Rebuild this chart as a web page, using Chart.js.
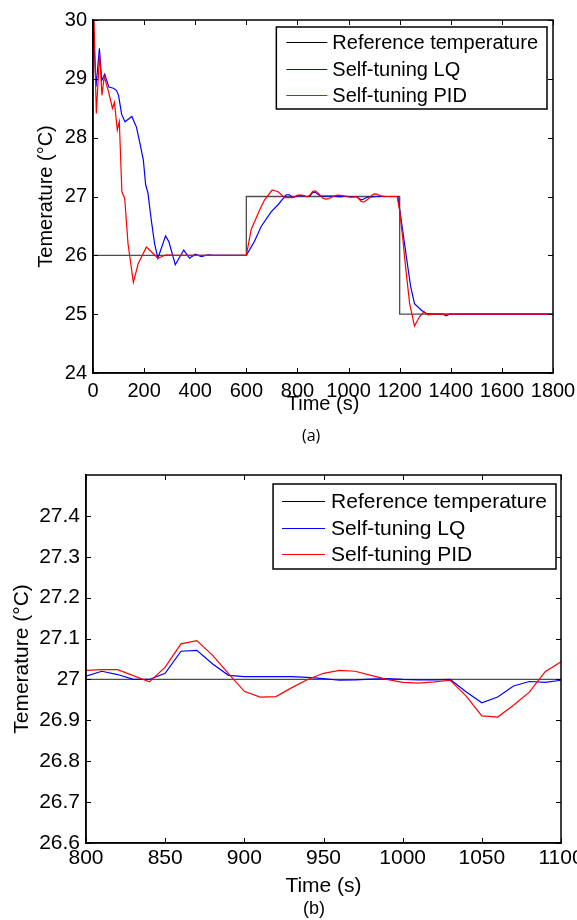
<!DOCTYPE html>
<html lang="en">
<head>
    <meta charset="UTF-8">
    <title>Self-tuning temperature control</title>
    <script src="https://cdn.jsdelivr.net/npm/chart.js"></script>
    <style>
        body { margin: 0; background: #fff; width: 577px; height: 920px; position: relative; overflow: hidden; }
        canvas { position: absolute; left: 0; }
        #chartA { top: 0; }
        #chartB { top: 450px; }
        .cap { position: absolute; color: #000; font-family: "Liberation Sans", Arial, sans-serif; }
    </style>
</head>
<body>
    <canvas id="chartA" width="577" height="440"></canvas>
    <canvas id="chartB" width="577" height="470"></canvas>
    <div class="cap" style="left:302px; top:424px; font-family:'Open Sans', sans-serif; font-size:16px;">(a)</div>
    <div class="cap" style="left:303px; top:898px; font-size:18px;">(b)</div>

    <script>
        // reference set-point
        const refTime = [0, 600, 600, 1200, 1200, 1800];
        const refTemp = [26, 26, 27, 27, 25, 25];

        // self-tuning LQ (blue)
        const lqTime = [0, 12, 25, 34, 46, 62, 80, 92, 100, 112, 125, 152, 170, 184, 197, 206, 215, 228, 241, 254,
            284, 297, 322, 355, 378, 400, 424, 450, 470, 600, 632, 658, 697, 724, 756, 769, 782,
            800, 810, 820, 830, 840, 850, 860, 870, 880, 890, 900, 910, 920, 930, 940, 950, 960, 970, 980, 990,
            1000, 1010, 1020, 1030, 1040, 1050, 1060, 1070, 1080, 1090, 1100,
            1110, 1150, 1193, 1206, 1219, 1232, 1243, 1258, 1284, 1304, 1340, 1370, 1382, 1395, 1800];
        const lqTemp = [30.0, 28.87, 29.52, 28.97, 29.08, 28.86, 28.84, 28.8, 28.72, 28.4, 28.27, 28.36, 28.18, 27.9, 27.62, 27.2, 27.06, 26.6, 26.2, 25.95,
            26.33, 26.23, 25.84, 26.09, 25.95, 26.02, 25.98, 26.01, 26.0, 26.0, 26.24, 26.49, 26.74, 26.86, 27.03, 27.03, 26.98,
            27.008, 27.02, 27.012, 27.0, 27.0, 27.015, 27.069, 27.071, 27.038, 27.01, 27.007, 27.007, 27.007, 27.007, 27.005, 27.002, 26.998, 26.999, 27.001, 27.002,
            27.0, 26.999, 26.999, 27.0, 26.97, 26.943, 26.957, 26.984, 26.995, 26.993, 26.998,
            27.0, 27.0, 27.0, 26.6, 26.2, 25.8, 25.47, 25.18, 25.07, 25.01, 25.0, 25.0, 24.97, 25.0, 25.0];

        // self-tuning PID (red)
        const pidTime = [0, 4, 13, 26, 35, 44, 61, 76, 84, 95, 103, 113, 124, 137, 158, 177, 209, 228, 254, 287, 320,
            600, 619, 652, 671, 701, 724, 750, 782,
            800, 810, 820, 840, 850, 860, 870, 880, 890, 900, 910, 920, 930, 940, 950, 960, 970, 980, 990,
            1000, 1010, 1020, 1030, 1040, 1050, 1060, 1070, 1080, 1090, 1100,
            1110, 1125, 1145, 1170, 1190, 1200, 1213, 1226, 1239, 1258, 1278, 1295, 1311, 1330, 1800];
        const pidTemp = [30.0, 30.0, 28.41, 29.43, 28.72, 29.04, 28.78, 28.5, 28.6, 28.13, 28.27, 27.08, 26.97, 26.2, 25.54, 25.86, 26.14, 26.06, 25.95, 26.01, 26.0,
            26.0, 26.44, 26.77, 26.94, 27.11, 27.08, 26.98, 26.98,
            27.022, 27.024, 27.024, 26.994, 27.03, 27.087, 27.095, 27.059, 27.014, 26.971, 26.957, 26.958, 26.98, 27.0, 27.015, 27.022, 27.02, 27.01, 27.0,
            26.993, 26.991, 26.994, 26.998, 26.96, 26.911, 26.908, 26.937, 26.969, 27.019, 27.043,
            27.04, 27.01, 27.0, 27.0, 27.0, 26.76, 26.25, 25.69, 25.18, 24.8, 24.96, 25.04, 24.99, 25.0, 25.0];

        const seriesNames = ["Reference temperature", "Self-tuning LQ", "Self-tuning PID"];
        const lineColors = ["#4d4d4d", "#0000ff", "#ff0000"];
        const legendColors = ["#000000", "#0000ff", "#ff0000"];

        // ticks
        const xTicksA = [0, 200, 400, 600, 800, 1000, 1200, 1400, 1600, 1800];
        const yTicksA = [24, 25, 26, 27, 28, 29, 30];
        const xTicksB = [800, 850, 900, 950, 1000, 1050, 1100];
        const yTicksB = [26.6, 26.7, 26.8, 26.9, 27, 27.1, 27.2, 27.3, 27.4];

        Chart.defaults.font.family = '"Liberation Sans", Arial, sans-serif';
        Chart.defaults.color = '#000';

        function toPoints(ts, vs) {
            return ts.map((t, i) => ({ x: t, y: vs[i] }));
        }

        // matlab-like box, inward ticks and legend inside the axes
        const matlabFrame = {
            id: 'matlabFrame',
            afterDraw(chart, args, opts) {
                const { ctx, chartArea: a, scales: { x, y } } = chart;
                ctx.save();
                ctx.strokeStyle = '#000';
                ctx.lineWidth = 1;
                ctx.beginPath();
                x.ticks.forEach(t => {
                    const px = Math.round(x.getPixelForValue(t.value)) + 0.5;
                    ctx.moveTo(px, a.bottom); ctx.lineTo(px, a.bottom - 5);
                    ctx.moveTo(px, a.top); ctx.lineTo(px, a.top + 5);
                });
                y.ticks.forEach(t => {
                    const py = Math.round(y.getPixelForValue(t.value)) + 0.5;
                    ctx.moveTo(a.left, py); ctx.lineTo(a.left + 5, py);
                    ctx.moveTo(a.right, py); ctx.lineTo(a.right - 5, py);
                });
                ctx.stroke();
                ctx.lineWidth = 1.5;
                ctx.strokeRect(a.left, a.top, a.right - a.left, a.bottom - a.top);

                // legend
                ctx.font = opts.fontSize + 'px "Liberation Sans", Arial, sans-serif';
                const textW = Math.max(...seriesNames.map(s => ctx.measureText(s).width));
                const w = opts.textX + textW + 9;
                const bx = a.right - opts.right - w;
                const by = a.top + opts.top;
                ctx.fillStyle = '#fff';
                ctx.fillRect(bx, by, w, opts.h);
                ctx.strokeStyle = '#000';
                ctx.strokeRect(bx, by, w, opts.h);
                ctx.textBaseline = 'middle';
                seriesNames.forEach((name, i) => {
                    const ly = Math.round(by + opts.first + i * opts.row) + 0.5;
                    ctx.strokeStyle = legendColors[i];
                    ctx.lineWidth = 1.2;
                    ctx.beginPath();
                    ctx.moveTo(bx + opts.lineX0, ly);
                    ctx.lineTo(bx + opts.lineX1, ly);
                    ctx.stroke();
                    ctx.fillStyle = '#000';
                    ctx.fillText(name, bx + opts.textX, ly + 1);
                });
                ctx.restore();
            }
        };

        function makeChart(id, cfg) {
            return new Chart(document.getElementById(id).getContext('2d'), {
                type: 'line',
                data: {
                    datasets: [
                        { label: seriesNames[0], data: toPoints(refTime, refTemp), borderColor: lineColors[0], borderWidth: 1.3, order: 3 },
                        { label: seriesNames[1], data: toPoints(lqTime, lqTemp), borderColor: lineColors[1], borderWidth: 1.2, order: 2 },
                        { label: seriesNames[2], data: toPoints(pidTime, pidTemp), borderColor: lineColors[2], borderWidth: 1.2, order: 1 }
                    ]
                },
                options: {
                    responsive: false,
                    animation: false,
                    devicePixelRatio: 1,
                    layout: { padding: cfg.padding },
                    elements: { point: { radius: 0 }, line: { tension: 0 } },
                    plugins: {
                        legend: { display: false },
                        tooltip: { enabled: false },
                        matlabFrame: cfg.legend
                    },
                    scales: {
                        x: {
                            type: 'linear',
                            min: cfg.xTicks[0],
                            max: cfg.xTicks[cfg.xTicks.length - 1],
                            grid: { display: false, drawTicks: false },
                            border: { display: true, color: '#000', width: 1.5 },
                            afterBuildTicks: s => { s.ticks = cfg.xTicks.map(v => ({ value: v })); },
                            ticks: { font: { size: cfg.fontSize }, padding: cfg.xPad, maxRotation: 0, callback: v => String(v) },
                            title: { display: true, text: 'Time (s)', font: { size: cfg.fontSize }, padding: { top: 0, bottom: cfg.xTitlePad } },
                            afterFit: s => { s.height = cfg.xHeight; s.paddingLeft = 0; s.paddingRight = 0; }
                        },
                        y: {
                            min: cfg.yMin,
                            max: cfg.yMax,
                            grid: { display: false, drawTicks: false },
                            border: { display: true, color: '#000', width: 1.5 },
                            afterBuildTicks: s => { s.ticks = cfg.yTicks.map(v => ({ value: v })); },
                            ticks: { font: { size: cfg.fontSize }, padding: 6, callback: v => String(+v.toFixed(1)) },
                            title: { display: true, text: 'Temerature (\u00b0C)', font: { size: cfg.fontSize }, padding: { top: 4, bottom: 0 } },
                            afterFit: s => { s.width = cfg.yWidth; s.paddingTop = 0; s.paddingBottom = 0; }
                        }
                    }
                },
                plugins: [matlabFrame]
            });
        }

        makeChart('chartA', {
            padding: { left: 30, top: 20, right: 24, bottom: 0 },
            xTicks: xTicksA, yTicks: yTicksA, yMin: 24, yMax: 30,
            fontSize: 20, xPad: 6, xTitlePad: 24, xHeight: 67, yWidth: 63,
            legend: { fontSize: 20, right: 6, top: 7, h: 82, first: 15, row: 26.5, lineX0: 10, lineX1: 51, textX: 56 }
        });

        makeChart('chartB', {
            padding: { left: 6, top: 25, right: 16, bottom: 0 },
            xTicks: xTicksB, yTicks: yTicksB, yMin: 26.6, yMax: 27.5,
            fontSize: 21, xPad: 3, xTitlePad: 21, xHeight: 77, yWidth: 80,
            legend: { fontSize: 21, right: 5, top: 9, h: 85, first: 17, row: 26.5, lineX0: 9, lineX1: 52, textX: 58 }
        });
    </script>
</body>
</html>
